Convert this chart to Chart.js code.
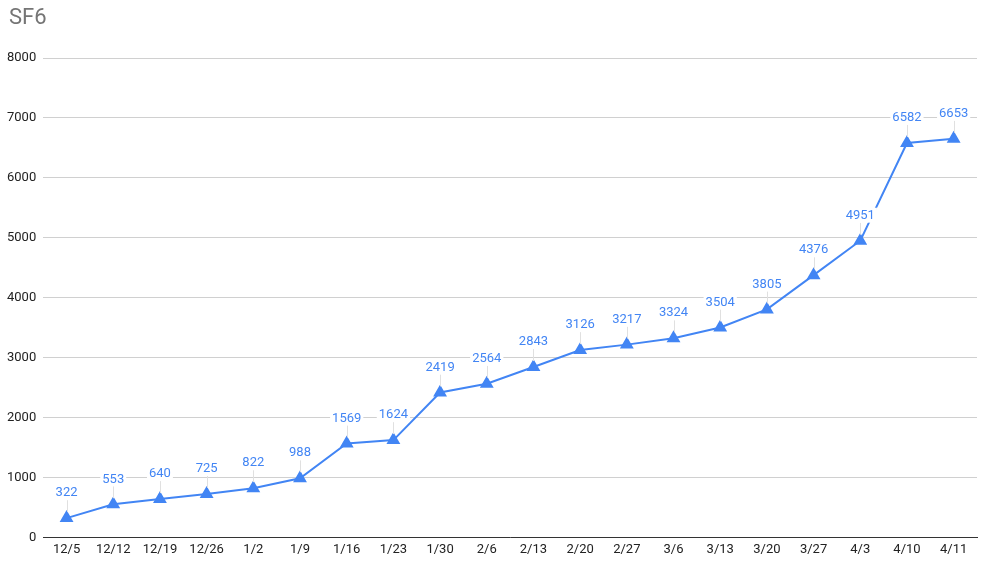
<!DOCTYPE html>
<html>
<head>
<meta charset="utf-8">
<script src="https://cdn.jsdelivr.net/npm/chart.js@4.4.1/dist/chart.umd.min.js"></script>
<style>
  html, body { margin: 0; padding: 0; background: #fff; }
  #wrap { position: relative; width: 991px; height: 563px; }
  #title { position: absolute; left: 9px; top: 4px; font: 22px Roboto, Arial, sans-serif; color: #757575; }
</style>
</head>
<body>
<div id="wrap">
  <div id="title">SF6</div>
  <canvas id="chart" width="991" height="563"></canvas>
</div>
<script>
// ====== DATA ======
const weeks = ["12/5", "12/12", "12/19", "12/26", "1/2", "1/9", "1/16", "1/23", "1/30", "2/6",
  "2/13", "2/20", "2/27", "3/6", "3/13", "3/20", "3/27", "4/3", "4/10", "4/11"];
const sf6 = [322, 553, 640, 725, 822, 988, 1569, 1624, 2419, 2564,
  2843, 3126, 3217, 3324, 3504, 3805, 4376, 4951, 6582, 6653];
const yTicks = [0, 1000, 2000, 3000, 4000, 5000, 6000, 7000, 8000];

const blue = "#4285F4";
const font = "Roboto, Arial, sans-serif";

// labels above points, white box + faint leader line
const pointLabels = {
  id: 'pointLabels',
  afterDatasetsDraw(chart) {
    const c = chart.ctx;
    const meta = chart.getDatasetMeta(0);
    c.save();
    c.font = "13px " + font;
    c.textAlign = "center";
    c.textBaseline = "middle";
    meta.data.forEach((pt, i) => {
      const txt = String(sf6[i]);
      const ly = pt.y - 25;
      const w = c.measureText(txt).width;
      c.strokeStyle = "#e0e0e0";
      c.lineWidth = 1;
      c.beginPath();
      c.moveTo(Math.round(pt.x) + 0.5, ly + 7);
      c.lineTo(Math.round(pt.x) + 0.5, pt.y - 6);
      c.stroke();
      c.fillStyle = "#fff";
      c.fillRect(pt.x - w / 2 - 2, ly - 8, w + 4, 15);
      c.fillStyle = blue;
      c.fillText(txt, pt.x, ly);
    });
    c.restore();
  }
};

new Chart(document.getElementById('chart'), {
  type: 'line',
  data: {
    labels: weeks,
    datasets: [{
      data: sf6,
      borderColor: blue,
      backgroundColor: blue,
      borderWidth: 2,
      pointStyle: 'triangle',
      pointRadius: 6,
      pointHoverRadius: 6,
      tension: 0
    }]
  },
  options: {
    responsive: false,
    animation: false,
    layout: { padding: { left: 0, right: 14, top: 58, bottom: 8 } },
    plugins: { legend: { display: false }, tooltip: { enabled: false } },
    scales: {
      x: {
        offset: true,
        grid: { display: false },
        border: { color: "#333", width: 1 },
        ticks: { color: "#222", font: { family: font, size: 13 }, maxRotation: 0, autoSkip: false, padding: -3 }
      },
      y: {
        min: 0, max: 8000,
        afterBuildTicks: axis => { axis.ticks = yTicks.map(v => ({ value: v })); },
        grid: { color: "#d0d0d0", drawTicks: false },
        border: { display: false },
        ticks: { color: "#222", font: { family: font, size: 13 }, padding: 7, callback: v => String(v) }
      }
    }
  },
  plugins: [pointLabels]
});
</script>
</body>
</html>
